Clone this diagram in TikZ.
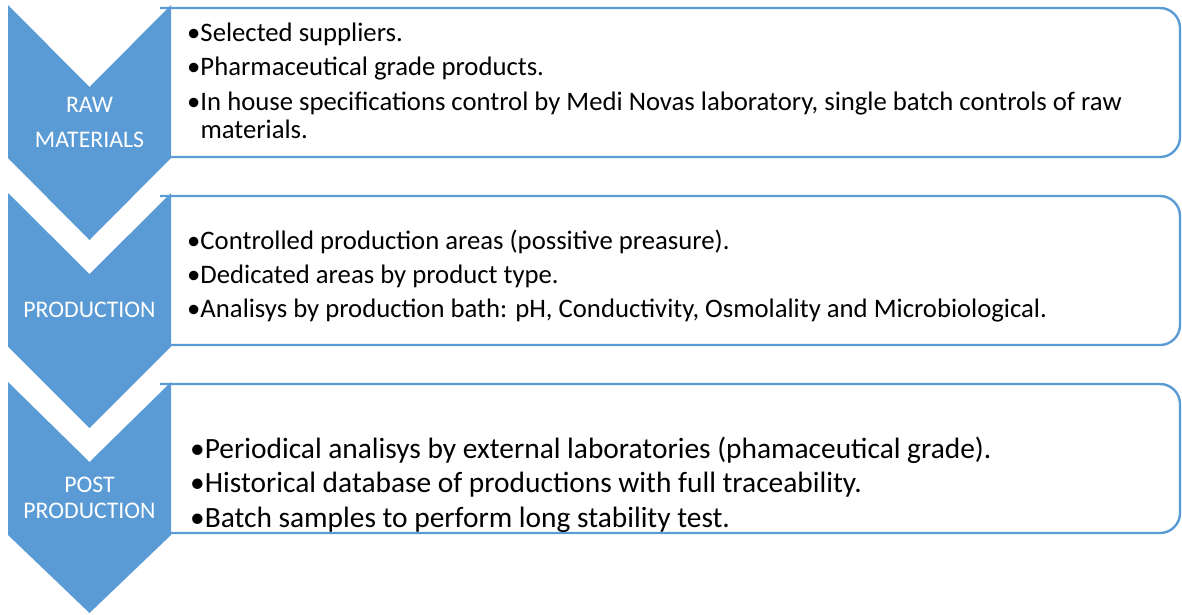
\documentclass[tikz,border=0pt]{standalone}
\usepackage{fontspec}
\setmainfont{Carlito}
\usepackage{xcolor}
\usepackage{tikz}
\usetikzlibrary{positioning}
\definecolor{stageblue}{HTML}{5B9BD5}

\begin{document}
\begin{tikzpicture}[x=1pt,y=-1pt,
  chev/.style={fill=stageblue},
  panel/.style={draw=stageblue,line width=2.4pt,rounded corners=20pt},
  stage/.style={text=white,align=center,inner sep=0pt,anchor=base,font=\fontsize{23.8}{35}\selectfont},
  items/.style={align=left,inner sep=0pt,anchor=base west,font=\fontsize{26.7}{28}\selectfont}]
\useasboundingbox (0,0) rectangle (1182,614);
% panels first, the chevrons cover their left ends
\draw[panel] (160,8) -- (1180,8) -- (1180,157) -- (160,157);
\draw[panel] (160,196) -- (1180,196) -- (1180,345) -- (160,345);
\draw[panel] (160,384) -- (1180,384) -- (1180,533) -- (160,533);
\fill[chev] (8,5) -- (89.5,87) -- (171,5) -- (171,158) -- (89.5,240) -- (8,158) -- cycle;
\fill[chev] (8,193) -- (89.5,274) -- (171,193) -- (171,346.5) -- (89.5,428) -- (8,346.5) -- cycle;
\fill[chev] (8,382) -- (89.5,462) -- (171,382) -- (171,535) -- (89.5,613) -- (8,535) -- cycle;
% labels sit on the baseline of their last line
\node[stage] (raw) at (89.5,147) {RAW\\MATERIALS};
\node[stage] (prod) at (89.5,317) {PRODUCTION};
\node[stage,font=\fontsize{23.8}{26}\selectfont] (post) at (89.5,518) {POST\\PRODUCTION};
\node[items] (rawtxt) at (187,138) {•Selected suppliers.\\[5.3pt]
  •Pharmaceutical grade products.\\[7pt]
  •In house specifications control by Medi Novas laboratory, single batch controls of raw\\
  \phantom{•}materials.};
\node[items,font=\fontsize{26.7}{34}\selectfont] (prodtxt) at (187,317) {•Controlled production areas (possitive preasure).\\
  •Dedicated areas by product type.\\
  •Analisys by production bath: pH, Conductivity, Osmolality and Microbiological.};
\node[items,font=\fontsize{29.4}{34.5}\selectfont] (posttxt) at (190,527) {•Periodical analisys by external laboratories (phamaceutical grade).\\
  •Historical database of productions with full traceability.\\
  •Batch samples to perform long stability test.};
\end{tikzpicture}
\end{document}
